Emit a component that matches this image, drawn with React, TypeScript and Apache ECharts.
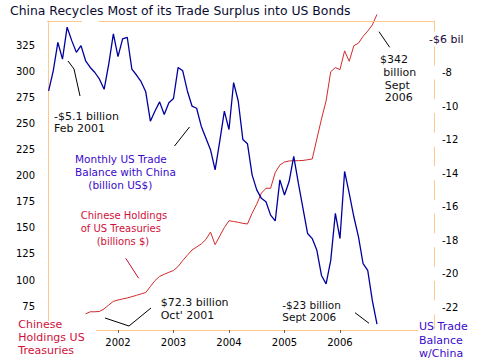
import React, { useEffect, useRef } from "react";
import * as echarts from "echarts";

// Month index 0 = Oct 2000
const startYear = 2000;
const startMonth = 10;
const yearLabels = ["2002", "2003", "2004", "2005", "2006"];

// Monthly US trade balance with China (billion US$), Oct 2000 .. Sep 2006
const tradeBalance = [
  -9.1, -7.9, -6.2, -7.2, -5.3, -6.1, -6.8, -6.4, -7.3, -7.7, -8.0, -8.4,
  -9.0, -7.5, -5.7, -7.05, -6.0, -5.9, -7.8, -8.15, -8.55, -9.15, -10.9, -10.3,
  -9.75, -10.5, -9.8, -9.55, -7.7, -7.9, -9.1, -10.0, -10.13, -11.2, -11.9, -12.6,
  -13.8, -12.1, -10.3, -11.4, -8.6, -9.7, -12.0, -12.25, -14.1, -15.0, -15.5, -15.7,
  -16.5, -16.85, -14.4, -15.3, -14.5, -13.0, -14.6, -16.1, -17.6, -17.9, -18.6, -20.1,
  -20.6, -19.2, -16.4, -17.9, -13.9, -15.2, -16.6, -17.8, -19.4, -19.8, -21.6, -23.0,
];

// Chinese holdings of US Treasuries (billions $), Jun 2001 .. Sep 2006
const holdingsStartIndex = 8;
const holdings = [
  67.5, 69.5, 69.5, 69.8, 72.3, 76, 79.5, 80.8, 81.8, 82.8, 84, 85.3,
  86.7, 88, 93.7, 99.5, 103.5, 105.5, 107.4, 109.1, 113, 118.7, 123.8, 128.8,
  131.7, 134.6, 138.9, 146, 134, 142.2, 150.4, 156.9, 156.2, 155.4, 154.4, 153.8,
  164.1, 172.8, 183.4, 188.1, 188.1, 203.2, 210.4, 213.3, 214.3, 214.6, 214.6, 214.8,
  215.5, 216.2, 235.5, 254.5, 272, 300, 304, 302, 320, 310, 325, 327.4,
  334, 339, 345, 355,
];

const leftTicks = [75, 100, 125, 150, 175, 200, 225, 250, 275, 300, 325];
const rightTicks = [-22, -20, -18, -16, -14, -12, -10, -8];

const FONT = "DejaVu Sans";
const ORANGE = "#FFC88C";
const BLUE_TEXT = "#3A0ACC";
const RED_TEXT = "#D0103A";
const DARK = "#101010";

const yearIndex = yearLabels.map(
  (y) => (Number(y) - startYear) * 12 + (1 - startMonth)
);

function txt(x: number, y: number, text: string, size: number, color: string, extra: any = {}) {
  return {
    type: "text",
    x,
    y,
    z: 100,
    style: {
      text,
      fill: color,
      fontSize: size,
      fontFamily: FONT,
      align: "left",
      textAlign: "left",
      verticalAlign: "middle",
      textVerticalAlign: "middle",
      ...extra,
    },
  };
}

function ln(points: number[][], color: string) {
  return {
    type: "polyline",
    z: 100,
    shape: { points },
    style: { stroke: color, lineWidth: 1, fill: null },
  };
}

export default function App() {
  const ref = useRef<HTMLDivElement>(null);

  useEffect(() => {
    if (!ref.current) return;
    const chart = echarts.init(ref.current, undefined, { renderer: "svg" });

    const graphic: any[] = [
      // title
      txt(10, 10.5, "China Recycles Most of its Trade Surplus into US Bonds", 12.4, "#0A0A30"),
      // top frame
      ln([[47, 21.5], [82, 21.5]], ORANGE),
      ln([[99, 21.5], [434, 21.5]], ORANGE),
      // annotations
      txt(54, 116, "-$5.1 billion", 11, DARK),
      txt(54, 128.3, "Feb 2001", 11, DARK),
      ln([[68, 61], [74, 69], [80, 96]], "#000"),
      txt(75, 159.3, "Monthly US Trade", 10.5, BLUE_TEXT),
      txt(75, 171.7, "Balance with China", 10.5, BLUE_TEXT),
      txt(88.3, 185, "(billion US$)", 10.5, BLUE_TEXT),
      ln([[174.5, 146], [189.5, 127]], "#000"),
      txt(80.7, 215, "Chinese Holdings", 10, RED_TEXT),
      txt(80.7, 228.3, "of US Treasuries", 10, RED_TEXT),
      txt(96.7, 241.7, "(billions $)", 10, RED_TEXT),
      ln([[125.7, 258.3], [138.7, 278.3]], "#C01030"),
      txt(160.7, 302.3, "$72.3 billion", 11, DARK),
      txt(160.7, 315, "Oct' 2001", 11, DARK),
      ln([[105, 318], [129, 326], [151, 308]], "#000"),
      txt(282.3, 305, "-$23 billion", 10.5, DARK),
      txt(282.3, 317.3, "Sept 2006", 10.5, DARK),
      ln([[355, 312.7], [369, 323.3]], "#000"),
      txt(380, 59.3, "$342", 11, DARK),
      txt(383.3, 72.3, "billion", 11, DARK),
      txt(384.7, 85, "Sept", 11, DARK),
      txt(384.7, 97.7, "2006", 11, DARK),
      ln([[379, 31.7], [389.7, 47.3]], "#000"),
      // corner labels
      { type: "rect", z: 90, shape: { x: 0, y: 321, width: 96, height: 43 }, style: { fill: "#fff" } },
      txt(18.3, 324, "Chinese", 11, RED_TEXT),
      txt(18.3, 337, "Holdings US", 11, RED_TEXT),
      txt(18.3, 350, "Treasuries", 11, RED_TEXT),
      { type: "rect", z: 90, shape: { x: 418, y: 329, width: 60, height: 35 }, style: { fill: "#fff" } },
      txt(419, 326.7, "US Trade", 11, BLUE_TEXT),
      txt(419, 340, "Balance", 11, BLUE_TEXT),
      txt(419, 353.3, "w/China", 11, BLUE_TEXT),
      txt(429, 39, "-$6 bil", 11, "#1A0A3A", { backgroundColor: "#fff", padding: [2, 1, 2, 0] }),
    ];

    chart.setOption({
      animation: false,
      grid: { left: 47, right: 44, top: 21, bottom: 34 },
      xAxis: {
        type: "value",
        min: -0.35,
        max: 83.33,
        splitLine: { show: false },
        axisLine: { show: true, lineStyle: { color: ORANGE, width: 1 } },
        axisTick: {
          show: true,
          customValues: yearIndex,
          length: 3,
          lineStyle: { color: "#666" },
        },
        axisLabel: {
          customValues: yearIndex,
          formatter: (v: number) => {
            const k = yearIndex.indexOf(Math.round(v));
            return k >= 0 ? yearLabels[k] : "";
          },
          fontSize: 10,
          fontFamily: FONT,
          color: "#000",
          margin: 7,
        },
      },
      yAxis: [
        {
          type: "value",
          position: "left",
          min: 52,
          max: 348.7,
          splitLine: { show: false },
          axisLine: { show: true, lineStyle: { color: ORANGE, width: 1 } },
          axisTick: { show: false },
          axisLabel: {
            customValues: leftTicks,
            fontSize: 10,
            fontFamily: FONT,
            color: "#000",
            margin: 12,
          },
        },
        {
          type: "value",
          position: "right",
          min: -23.35,
          max: -4.93,
          splitLine: { show: false },
          axisLine: { show: true, lineStyle: { color: ORANGE, width: 1 } },
          axisTick: { show: false },
          axisLabel: {
            customValues: rightTicks,
            fontSize: 10,
            fontFamily: FONT,
            color: "#000",
            margin: -2,
            backgroundColor: "#fff",
            padding: [2, 0, 2, 10],
          },
        },
      ],
      series: [
        {
          name: "Chinese Holdings of US Treasuries",
          type: "line",
          yAxisIndex: 0,
          data: holdings.map((v, i) => [i + holdingsStartIndex, v]),
          symbol: "none",
          clip: false,
          z: 2,
          lineStyle: { color: "#D42A2A", width: 1 },
        },
        {
          name: "Monthly US Trade Balance with China",
          type: "line",
          yAxisIndex: 1,
          data: tradeBalance.map((v, i) => [i, v]),
          symbol: "none",
          z: 3,
          lineStyle: { color: "#0000A0", width: 1.3 },
        },
      ],
      graphic,
    });

    return () => chart.dispose();
  }, []);

  return (
    <div
      ref={ref}
      style={{ position: "fixed", left: 0, top: 0, width: 478, height: 364, background: "#fff" }}
    />
  );
}
